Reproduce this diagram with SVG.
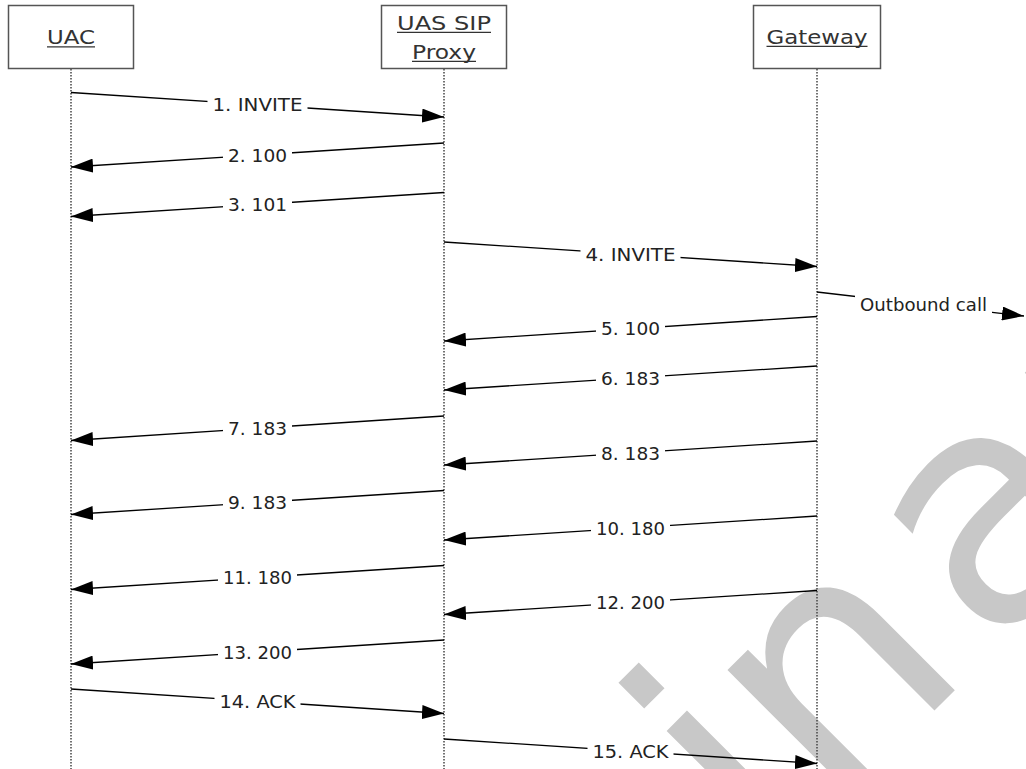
<svg xmlns="http://www.w3.org/2000/svg" width="1026" height="769" viewBox="0 0 1026 769">
<defs>
<style>
.box{fill:#fff;stroke:#555;stroke-width:1.5}
.hdr{font-family:"DejaVu Sans","Verdana",sans-serif;font-size:19.5px;fill:#333;text-anchor:middle}
.ul{stroke:#333;stroke-width:1.3}
.life{stroke:#444;stroke-width:1.5;stroke-dasharray:1.5 1.5;fill:none}
.msg{stroke:#000;stroke-width:1.3;fill:none;marker-end:url(#ah)}
.lbg{fill:#fff}
.lbl{font-family:"DejaVu Sans","Verdana",sans-serif;font-size:18.5px;fill:#222;text-anchor:middle}
.wm{font-family:"DejaVu Sans",sans-serif;font-size:320px;fill:#c8c8c8}
</style>
<marker id="ah" markerUnits="userSpaceOnUse" markerWidth="24" markerHeight="14" refX="22" refY="7" orient="auto">
<path d="M0,0 L22,7 L0,14 Z" fill="#000"/>
</marker>
</defs>
<rect width="1026" height="769" fill="#fff"/>
<text class="wm" transform="translate(822.5,822.5) rotate(-45)" x="-1086.6 -893.6 -762 -565.1 -476.2 -387.3 -75.6 11.5 236 432 563.6" y="0">Preliminary</text>

<g id="lifelines">
<line class="life" x1="71" y1="69" x2="71" y2="769"/>
<line class="life" x1="444" y1="69" x2="444" y2="769"/>
<line class="life" x1="817" y1="69" x2="817" y2="769"/>
</g>

<g id="uac">
<rect class="box" x="8.5" y="5.5" width="125" height="63"/>
<text class="hdr" x="71" y="44" textLength="48" lengthAdjust="spacingAndGlyphs">UAC</text>
<line class="ul" x1="47" y1="46.8" x2="95" y2="46.8"/>
</g>
<g id="proxy">
<rect class="box" x="381.5" y="5.5" width="125" height="63"/>
<text class="hdr" x="444" y="29.5" textLength="94" lengthAdjust="spacingAndGlyphs">UAS SIP</text>
<line class="ul" x1="397" y1="32.3" x2="491" y2="32.3"/>
<text class="hdr" x="444" y="58.5" textLength="64" lengthAdjust="spacingAndGlyphs">Proxy</text>
<line class="ul" x1="412" y1="61.3" x2="476" y2="61.3"/>
</g>
<g id="gateway">
<rect class="box" x="753.5" y="5.5" width="127" height="63"/>
<text class="hdr" x="817" y="43.5" textLength="101" lengthAdjust="spacingAndGlyphs">Gateway</text>
<line class="ul" x1="766.5" y1="46.3" x2="867.5" y2="46.3"/>
</g>

<g id="connectors">
<line class="msg" x1="71" y1="92.5" x2="444" y2="117"/>
<line class="msg" x1="444" y1="143" x2="71" y2="167"/>
<line class="msg" x1="444" y1="192.5" x2="71" y2="216.5"/>
<line class="msg" x1="444" y1="242" x2="817" y2="266.5"/>
<line class="msg" x1="817" y1="292" x2="1024" y2="316"/>
<line class="msg" x1="817" y1="316.5" x2="444" y2="341"/>
<line class="msg" x1="817" y1="366" x2="444" y2="390"/>
<line class="msg" x1="444" y1="416" x2="71" y2="440.5"/>
<line class="msg" x1="817" y1="441" x2="444" y2="465"/>
<line class="msg" x1="444" y1="490.5" x2="71" y2="514.5"/>
<line class="msg" x1="817" y1="516" x2="444" y2="540"/>
<line class="msg" x1="444" y1="565.5" x2="71" y2="589.5"/>
<line class="msg" x1="817" y1="590.5" x2="444" y2="614.5"/>
<line class="msg" x1="444" y1="640" x2="71" y2="664"/>
<line class="msg" x1="71" y1="689" x2="444" y2="713.5"/>
<line class="msg" x1="444" y1="739" x2="817" y2="763.5"/>
</g>

<g id="labels">
<rect class="lbg" x="207.5" y="95.75" width="100" height="18"/>
<text class="lbl" x="257.5" y="111.25" textLength="90" lengthAdjust="spacingAndGlyphs">1. INVITE</text>
<rect class="lbg" x="223" y="146" width="69" height="18"/>
<text class="lbl" x="257.5" y="161.5" textLength="59" lengthAdjust="spacingAndGlyphs">2. 100</text>
<rect class="lbg" x="223" y="195.5" width="69" height="18"/>
<text class="lbl" x="257.5" y="211" textLength="59" lengthAdjust="spacingAndGlyphs">3. 101</text>
<rect class="lbg" x="580.5" y="245.25" width="100" height="18"/>
<text class="lbl" x="630.5" y="260.75" textLength="90" lengthAdjust="spacingAndGlyphs">4. INVITE</text>
<rect class="lbg" x="855" y="295" width="137" height="18"/>
<text class="lbl" x="923.5" y="310.5" textLength="127" lengthAdjust="spacingAndGlyphs">Outbound call</text>
<rect class="lbg" x="596" y="319.75" width="69" height="18"/>
<text class="lbl" x="630.5" y="335.25" textLength="59" lengthAdjust="spacingAndGlyphs">5. 100</text>
<rect class="lbg" x="596" y="369" width="69" height="18"/>
<text class="lbl" x="630.5" y="384.5" textLength="59" lengthAdjust="spacingAndGlyphs">6. 183</text>
<rect class="lbg" x="223" y="419.25" width="69" height="18"/>
<text class="lbl" x="257.5" y="434.75" textLength="59" lengthAdjust="spacingAndGlyphs">7. 183</text>
<rect class="lbg" x="596" y="444" width="69" height="18"/>
<text class="lbl" x="630.5" y="459.5" textLength="59" lengthAdjust="spacingAndGlyphs">8. 183</text>
<rect class="lbg" x="223" y="493.5" width="69" height="18"/>
<text class="lbl" x="257.5" y="509" textLength="59" lengthAdjust="spacingAndGlyphs">9. 183</text>
<rect class="lbg" x="591" y="519" width="79" height="18"/>
<text class="lbl" x="630.5" y="534.5" textLength="69" lengthAdjust="spacingAndGlyphs">10. 180</text>
<rect class="lbg" x="218" y="568.5" width="79" height="18"/>
<text class="lbl" x="257.5" y="584" textLength="69" lengthAdjust="spacingAndGlyphs">11. 180</text>
<rect class="lbg" x="591" y="593.5" width="79" height="18"/>
<text class="lbl" x="630.5" y="609" textLength="69" lengthAdjust="spacingAndGlyphs">12. 200</text>
<rect class="lbg" x="218" y="643" width="79" height="18"/>
<text class="lbl" x="257.5" y="658.5" textLength="69" lengthAdjust="spacingAndGlyphs">13. 200</text>
<rect class="lbg" x="214.5" y="692.25" width="86" height="18"/>
<text class="lbl" x="257.5" y="707.75" textLength="76" lengthAdjust="spacingAndGlyphs">14. ACK</text>
<rect class="lbg" x="587.5" y="742.25" width="86" height="18"/>
<text class="lbl" x="630.5" y="757.75" textLength="76" lengthAdjust="spacingAndGlyphs">15. ACK</text>
</g>
</svg>
